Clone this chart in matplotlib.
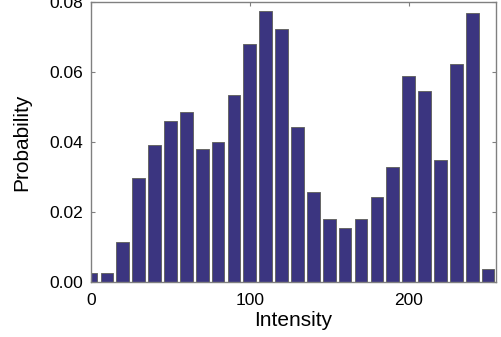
import numpy as np
import matplotlib
matplotlib.use("Agg")
import matplotlib.pyplot as plt

# bin centers (intensity) and probability per bin
intensity = np.arange(0, 260, 10)
probability = [0.0025, 0.0027, 0.0115, 0.0296, 0.0391, 0.0460, 0.0486, 0.0381,
               0.0399, 0.0533, 0.0679, 0.0775, 0.0722, 0.0442, 0.0256, 0.0180,
               0.0153, 0.0180, 0.0242, 0.0328, 0.0590, 0.0547, 0.0348, 0.0624,
               0.0770, 0.0037]

xticks = [0, 100, 200]
yticks = [0.00, 0.02, 0.04, 0.06, 0.08]

plt.rcParams["font.family"] = ["Liberation Sans", "DejaVu Sans"]

fig = plt.figure(figsize=(5.01, 3.37), dpi=100)
ax = fig.add_axes([0.1816, 0.1632, 0.8084, 0.8308])

ax.bar(intensity, probability, width=8, color="#3b3580",
       edgecolor="#666666", linewidth=0.7, zorder=2)

ax.set_xlim(0, 255)
ax.set_ylim(0, 0.08)
ax.set_xticks(xticks)
ax.set_yticks(yticks)
ax.set_yticklabels([f"{v:.2f}" for v in yticks])

for s in ax.spines.values():
    s.set_color("#808080")
    s.set_linewidth(1.0)

ax.tick_params(direction="in", length=3, width=0.8, color="#808080",
               top=True, right=True, labelsize=12.5, pad=6)
ax.tick_params(axis="x", pad=8)

ax.set_xlabel("Intensity", fontsize=15, labelpad=2)
ax.set_ylabel("Probability", fontsize=15, labelpad=13)

fig.savefig("out.png", dpi=100)
